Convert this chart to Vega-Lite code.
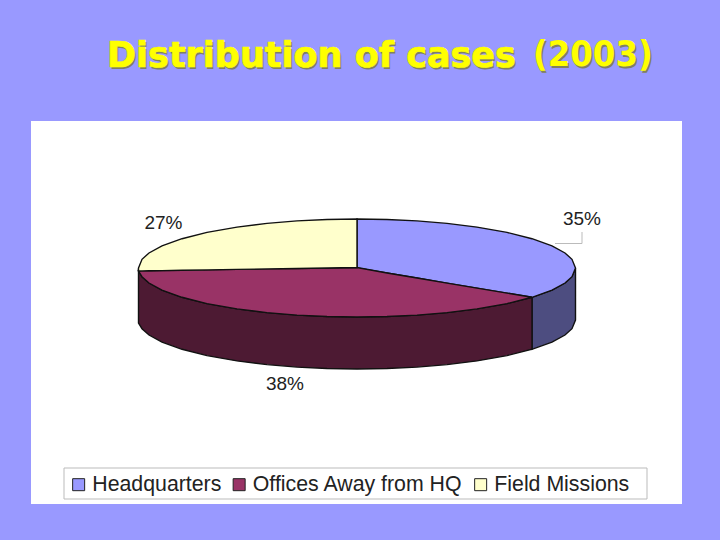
{
  "$schema": "https://vega.github.io/schema/vega-lite/v6.json",
  "width": 651,
  "height": 383,
  "autosize": "none",
  "padding": {"left": 31, "top": 121, "right": 38, "bottom": 36},
  "background": "#9999FF",
  "view": {"fill": "white", "stroke": null},
  "datasets": {
    "faces": [
      {"part": "Headquarters", "x": 357, "y": 219, "y2": 268},
      {"part": "Headquarters", "x": 387, "y": 219.5, "y2": 273},
      {"part": "Headquarters", "x": 417, "y": 220.9, "y2": 278},
      {"part": "Headquarters", "x": 447, "y": 223.4, "y2": 283.1},
      {"part": "Headquarters", "x": 477, "y": 227.1, "y2": 288.1},
      {"part": "Headquarters", "x": 507, "y": 232.4, "y2": 293.1},
      {"part": "Headquarters", "x": 532, "y": 238.7, "y2": 297.3},
      {"part": "Headquarters", "x": 552, "y": 245.9, "y2": 290.1},
      {"part": "Headquarters", "x": 565, "y": 253, "y2": 283},
      {"part": "Headquarters", "x": 572, "y": 259.3, "y2": 276.7},
      {"part": "Headquarters", "x": 575.5, "y": 268, "y2": 268},
      {"part": "Offices Away from HQ", "x": 138.5, "y": 271, "y2": 271},
      {"part": "Offices Away from HQ", "x": 142, "y": 270.9, "y2": 276.7},
      {"part": "Offices Away from HQ", "x": 149, "y": 270.8, "y2": 283},
      {"part": "Offices Away from HQ", "x": 162, "y": 270.6, "y2": 290.1},
      {"part": "Offices Away from HQ", "x": 182, "y": 270.3, "y2": 297.3},
      {"part": "Offices Away from HQ", "x": 207, "y": 269.9, "y2": 303.6},
      {"part": "Offices Away from HQ", "x": 237, "y": 269.4, "y2": 308.9},
      {"part": "Offices Away from HQ", "x": 267, "y": 268.9, "y2": 312.6},
      {"part": "Offices Away from HQ", "x": 297, "y": 268.5, "y2": 315.1},
      {"part": "Offices Away from HQ", "x": 327, "y": 268, "y2": 316.5},
      {"part": "Offices Away from HQ", "x": 357, "y": 267.5, "y2": 317},
      {"part": "Offices Away from HQ", "x": 387, "y": 273, "y2": 316.5},
      {"part": "Offices Away from HQ", "x": 417, "y": 278, "y2": 315.1},
      {"part": "Offices Away from HQ", "x": 447, "y": 283.1, "y2": 312.6},
      {"part": "Offices Away from HQ", "x": 477, "y": 288.1, "y2": 308.9},
      {"part": "Offices Away from HQ", "x": 507, "y": 293.1, "y2": 303.6},
      {"part": "Offices Away from HQ", "x": 532, "y": 297.3, "y2": 297.3},
      {"part": "Field Missions", "x": 138.5, "y": 268, "y2": 271},
      {"part": "Field Missions", "x": 142, "y": 259.3, "y2": 270.9},
      {"part": "Field Missions", "x": 149, "y": 253, "y2": 270.8},
      {"part": "Field Missions", "x": 162, "y": 245.9, "y2": 270.6},
      {"part": "Field Missions", "x": 182, "y": 238.7, "y2": 270.3},
      {"part": "Field Missions", "x": 207, "y": 232.4, "y2": 269.9},
      {"part": "Field Missions", "x": 237, "y": 227.1, "y2": 269.4},
      {"part": "Field Missions", "x": 267, "y": 223.4, "y2": 268.9},
      {"part": "Field Missions", "x": 297, "y": 220.9, "y2": 268.5},
      {"part": "Field Missions", "x": 327, "y": 219.5, "y2": 268},
      {"part": "Field Missions", "x": 357, "y": 219, "y2": 267.5}
    ],
    "walls": [
      {"part": "Headquarters", "x": 532, "y": 297.3, "y2": 349.3},
      {"part": "Headquarters", "x": 552, "y": 290.1, "y2": 342.1},
      {"part": "Headquarters", "x": 565, "y": 283, "y2": 335},
      {"part": "Headquarters", "x": 572, "y": 276.7, "y2": 328.7},
      {"part": "Headquarters", "x": 575.5, "y": 268, "y2": 320},
      {"part": "Offices Away from HQ", "x": 138.5, "y": 271, "y2": 323},
      {"part": "Offices Away from HQ", "x": 142, "y": 276.7, "y2": 328.7},
      {"part": "Offices Away from HQ", "x": 149, "y": 283, "y2": 335},
      {"part": "Offices Away from HQ", "x": 162, "y": 290.1, "y2": 342.1},
      {"part": "Offices Away from HQ", "x": 182, "y": 297.3, "y2": 349.3},
      {"part": "Offices Away from HQ", "x": 207, "y": 303.6, "y2": 355.6},
      {"part": "Offices Away from HQ", "x": 237, "y": 308.9, "y2": 360.9},
      {"part": "Offices Away from HQ", "x": 267, "y": 312.6, "y2": 364.6},
      {"part": "Offices Away from HQ", "x": 297, "y": 315.1, "y2": 367.1},
      {"part": "Offices Away from HQ", "x": 327, "y": 316.5, "y2": 368.5},
      {"part": "Offices Away from HQ", "x": 357, "y": 317, "y2": 369},
      {"part": "Offices Away from HQ", "x": 387, "y": 316.5, "y2": 368.5},
      {"part": "Offices Away from HQ", "x": 417, "y": 315.1, "y2": 367.1},
      {"part": "Offices Away from HQ", "x": 447, "y": 312.6, "y2": 364.6},
      {"part": "Offices Away from HQ", "x": 477, "y": 308.9, "y2": 360.9},
      {"part": "Offices Away from HQ", "x": 507, "y": 303.6, "y2": 355.6},
      {"part": "Offices Away from HQ", "x": 532, "y": 297.3, "y2": 349.3}
    ],
    "labels": [
      {"text": "35%", "x": 582, "y": 225},
      {"text": "38%", "x": 285, "y": 390},
      {"text": "27%", "x": 163.5, "y": 229}
    ],
    "leader": [
      {"x": 582, "y": 232, "step": 1},
      {"x": 582, "y": 243.5, "step": 2},
      {"x": 555, "y": 243.5, "step": 3}
    ]
  },
  "layer": [
    {
      "data": {"values": [{"x": 64, "x2": 647, "y": 468, "y2": 499}]},
      "mark": {"type": "rect", "fill": "white", "stroke": "#BBBBBB", "strokeWidth": 1},
      "encoding": {
        "x": {"field": "x", "type": "quantitative", "scale": {"domain": [31, 682], "nice": false, "zero": false}, "axis": null},
        "x2": {"field": "x2"},
        "y": {"field": "y", "type": "quantitative", "scale": {"domain": [504, 121], "nice": false, "zero": false}, "axis": null},
        "y2": {"field": "y2"}
      }
    },
    {
      "data": {"name": "walls"},
      "mark": {"type": "area", "stroke": "#111111", "strokeWidth": 1.4, "opacity": 1},
      "encoding": {
        "x": {"field": "x", "type": "quantitative", "axis": null},
        "y": {"field": "y", "type": "quantitative", "axis": null},
        "y2": {"field": "y2"},
        "color": {
          "field": "part",
          "type": "nominal",
          "scale": {"domain": ["Headquarters", "Offices Away from HQ"], "range": ["#4D4D80", "#4D1A33"]},
          "legend": null
        }
      }
    },
    {
      "data": {"name": "faces"},
      "mark": {"type": "area", "stroke": "#111111", "strokeWidth": 1.4, "opacity": 1},
      "encoding": {
        "x": {"field": "x", "type": "quantitative", "axis": null},
        "y": {"field": "y", "type": "quantitative", "axis": null},
        "y2": {"field": "y2"},
        "color": {
          "field": "part",
          "type": "nominal",
          "scale": {"domain": ["Headquarters", "Offices Away from HQ", "Field Missions"], "range": ["#9999FF", "#993366", "#FFFFCC"]},
          "legend": {
            "title": null,
            "orient": "none",
            "legendX": 32,
            "legendY": 348,
            "direction": "horizontal",
            "columns": 3,
            "symbolType": "square",
            "symbolSize": 144,
            "symbolStrokeColor": "#222222",
            "symbolStrokeWidth": 1,
            "symbolOpacity": 1,
            "labelFont": "Liberation Sans",
            "labelFontSize": 21.3,
            "labelColor": "#222222",
            "labelLimit": 400,
            "labelOffset": 3,
            "columnPadding": 6.5,
            "padding": 5
          }
        }
      }
    },
    {
      "data": {"name": "leader"},
      "mark": {"type": "line", "color": "#BBBBBB", "strokeWidth": 1},
      "encoding": {
        "x": {"field": "x", "type": "quantitative", "axis": null},
        "y": {"field": "y", "type": "quantitative", "axis": null},
        "order": {"field": "step", "type": "ordinal"}
      }
    },
    {
      "data": {"name": "labels"},
      "mark": {"type": "text", "font": "Liberation Sans", "fontSize": 19, "color": "#222222", "align": "center", "baseline": "alphabetic"},
      "encoding": {
        "x": {"field": "x", "type": "quantitative", "axis": null},
        "y": {"field": "y", "type": "quantitative", "axis": null},
        "text": {"field": "text"}
      }
    },
    {
      "data": {"values": [{"text": "Distribution of cases", "x": 107, "y": 67}]},
      "mark": {"type": "text", "font": "DejaVu Sans", "fontWeight": "bold", "fontSize": 35, "color": "#808060", "align": "left", "baseline": "alphabetic", "dx": 1.5, "dy": 1.5},
      "encoding": {
        "x": {"field": "x", "type": "quantitative", "axis": null},
        "y": {"field": "y", "type": "quantitative", "axis": null},
        "text": {"field": "text"}
      }
    },
    {
      "data": {"values": [{"text": "Distribution of cases", "x": 107, "y": 67}]},
      "mark": {"type": "text", "font": "DejaVu Sans", "fontWeight": "bold", "fontSize": 35, "color": "#FFFF00", "stroke": "#FFFF00", "strokeWidth": 0.7, "align": "left", "baseline": "alphabetic"},
      "encoding": {
        "x": {"field": "x", "type": "quantitative", "axis": null},
        "y": {"field": "y", "type": "quantitative", "axis": null},
        "text": {"field": "text"}
      }
    },
    {
      "data": {"values": [{"text": "(2003)", "x": 533, "y": 66}]},
      "mark": {"type": "text", "font": "DejaVu Sans Condensed", "fontWeight": "bold", "fontSize": 36, "color": "#808060", "align": "left", "baseline": "alphabetic", "dx": 1.5, "dy": 1.5},
      "encoding": {
        "x": {"field": "x", "type": "quantitative", "axis": null},
        "y": {"field": "y", "type": "quantitative", "axis": null},
        "text": {"field": "text"}
      }
    },
    {
      "data": {"values": [{"text": "(2003)", "x": 533, "y": 66}]},
      "mark": {"type": "text", "font": "DejaVu Sans Condensed", "fontWeight": "bold", "fontSize": 36, "color": "#FFFF00", "align": "left", "baseline": "alphabetic"},
      "encoding": {
        "x": {"field": "x", "type": "quantitative", "axis": null},
        "y": {"field": "y", "type": "quantitative", "axis": null},
        "text": {"field": "text"}
      }
    }
  ],
  "resolve": {"scale": {"color": "independent"}}
}
